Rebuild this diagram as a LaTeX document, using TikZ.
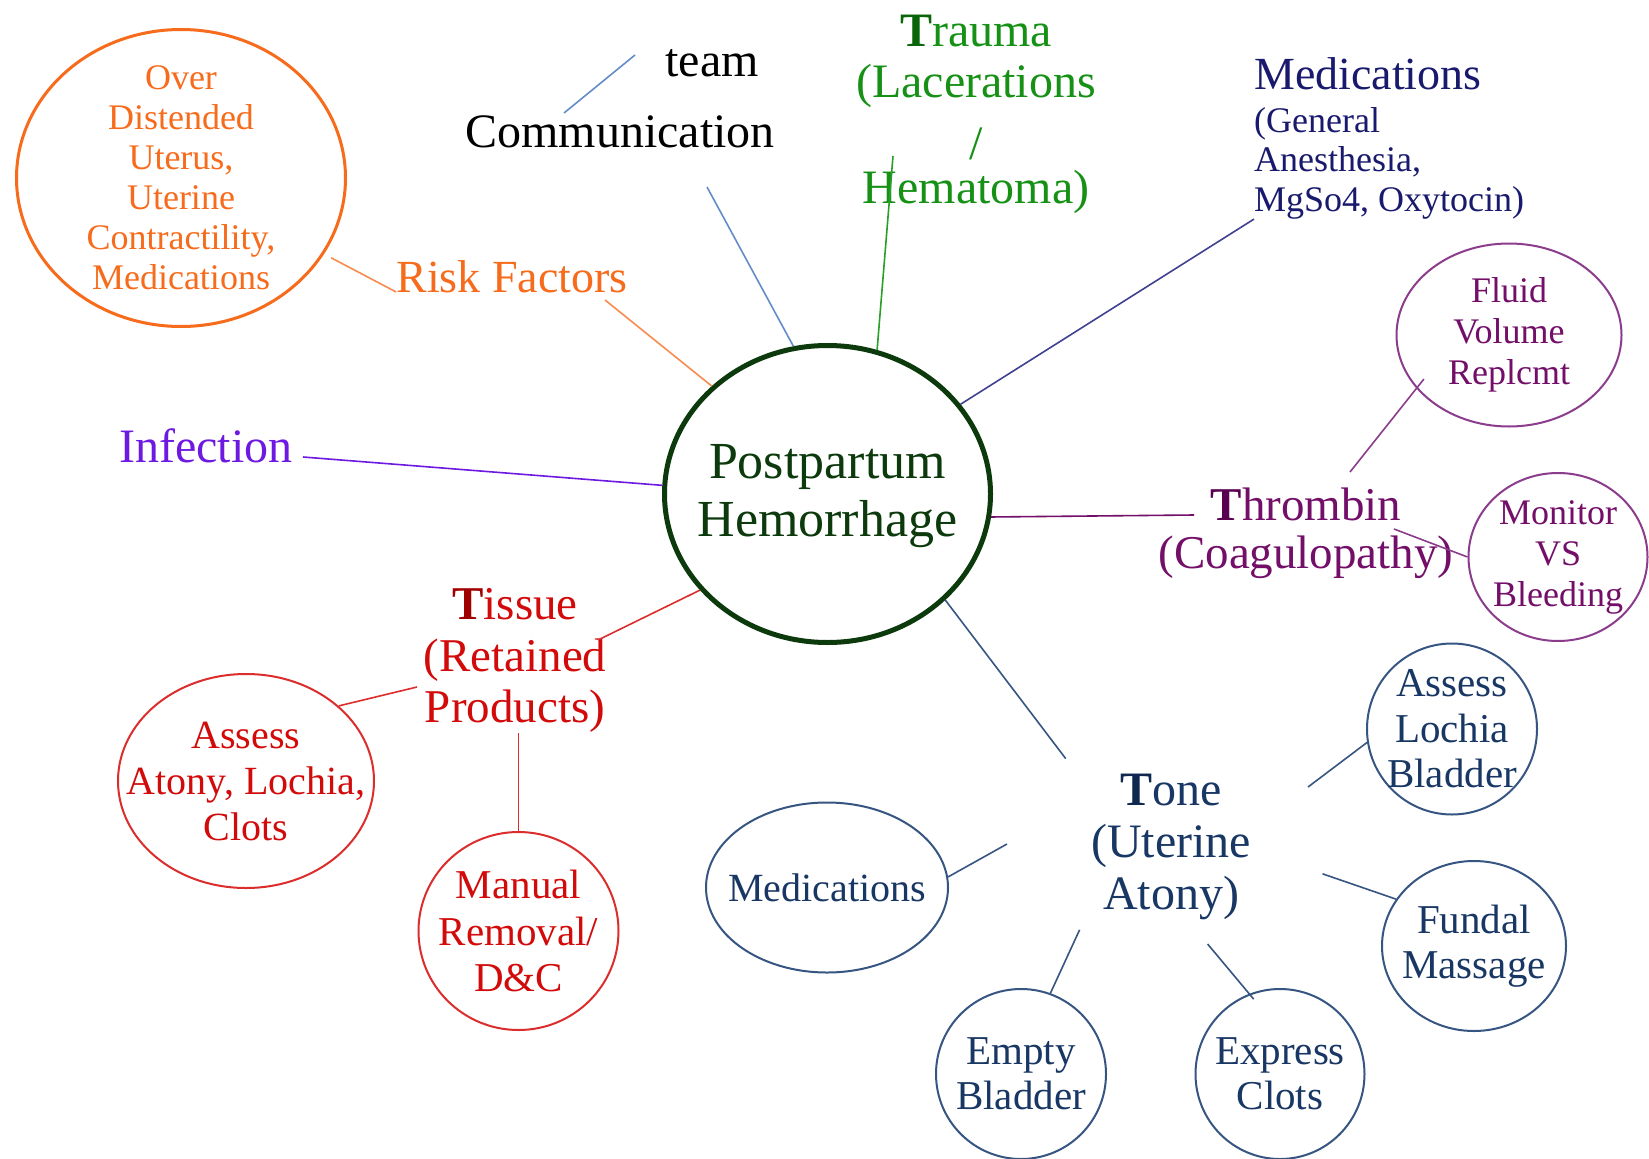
\documentclass[tikz,border=0pt]{standalone}
\usepackage{fontspec}
\setmainfont{Liberation Serif}
\usetikzlibrary{shapes.geometric}
\newcommand{\myfs}[2]{\fontsize{#1}{#2}\selectfont}
\definecolor{orng}{RGB}{247,108,28}
\definecolor{orngL}{RGB}{248,140,80}
\definecolor{commL}{RGB}{100,140,200}
\definecolor{trG}{RGB}{22,145,22}
\definecolor{trD}{RGB}{10,100,10}
\definecolor{trL}{RGB}{40,160,40}
\definecolor{navy}{RGB}{25,25,110}
\definecolor{navyL}{RGB}{65,65,145}
\definecolor{purp}{RGB}{115,15,105}
\definecolor{purpD}{RGB}{90,0,80}
\definecolor{purpL}{RGB}{140,60,140}
\definecolor{viol}{RGB}{110,25,225}
\definecolor{redT}{RGB}{210,10,10}
\definecolor{redD}{RGB}{160,0,0}
\definecolor{redL}{RGB}{220,45,45}
\definecolor{toneT}{RGB}{25,55,100}
\definecolor{toneD}{RGB}{15,40,80}
\definecolor{toneL}{RGB}{55,85,130}
\definecolor{pphg}{RGB}{12,58,12}
\begin{document}
\begin{tikzpicture}[x=1pt,y=-1pt,
  txt/.style={inner sep=0pt},
  conn/.style={line width=1.6pt},
  bub/.style={ellipse, draw, line width=2pt, inner sep=0pt},
  btxt/.style={inner sep=0pt, align=center}]
\fill[white] (0,0) rectangle (1649,1159);
\useasboundingbox (0,0) rectangle (1649,1159);

% centre
\node[ellipse, draw=pphg, line width=5pt, minimum width=326pt, minimum height=297pt,
      inner sep=0pt] (pph) at (827.5,494) {};
\node[btxt, text=pphg, font={\myfs{52}{58}}] (pphT) at (827.5,496) {Postpartum\\Hemorrhage};

% risk factors
\node[bub, draw=orng, line width=3pt, minimum width=329pt, minimum height=297pt] (riskE) at (181,178) {};
\node[btxt, text=orng, font={\myfs{36}{40}}] (riskT) at (181,178)
      {Over\\Distended\\Uterus,\\Uterine\\Contractility,\\Medications};
\node[txt, text=orng, font={\myfs{46}{52}}, anchor=base] (risk) at (512,292) {Risk Factors};
\coordinate (riskLow) at (605,300);
\draw[conn, orngL, shorten <=8pt] (riskE.332.5) -- (risk.base west);
\draw[conn, orngL] (riskLow) -- (pph.137.9);

% communication
\node[txt, font={\myfs{48}{52}}, anchor=base] (team) at (712,76) {team};
\node[txt, font={\myfs{48}{52}}, anchor=base] (comm) at (620,147) {Communication};
\coordinate (tcA) at (635,55);
\coordinate (tcB) at (564,113);
\coordinate (commEnd) at (707,187);
\draw[conn, commL] (tcA) -- (tcB);
\draw[conn, commL] (commEnd) -- (pph.103.3);

% trauma
\node[txt, text=trG, align=center, font={\myfs{48}{51}}] (trauma) at (976,114)
      {{\color{trD}\textbf{T}}rauma\\(Lacerations\\[11pt]/\\[-7pt]Hematoma)};
\coordinate (trEnd) at (893,156);
\draw[conn, trL] (trEnd) -- (pph.71.4);

% medications (top right)
\node[txt, text=navy, font={\myfs{46}{50}}, anchor=base west] (medT) at (1254,89) {Medications};
\node[txt, text=navy, align=left, font={\myfs{36}{39.5}}, anchor=west] (medSub) at (1254,163)
      {(General\\Anesthesia,\\MgSo4, Oxytocin)};
\draw[conn, navyL] (medSub.south west) -- (pph.34.9);

% thrombin
\node[txt, text=purp, align=center, font={\myfs{47}{48}}] (thromb) at (1306,533.5)
      {{\color{purpD}\textbf{T}}hrombin\\(Coagulopathy)};
\node[bub, draw=purpL, minimum width=225pt, minimum height=183pt] (fluidE) at (1509,335) {};
\node[btxt, text=purp, font={\myfs{36}{41}}] (fluidT) at (1509,335) {Fluid\\Volume\\Replcmt};
\node[bub, draw=purpL, minimum width=179pt, minimum height=168pt] (monE) at (1558,557) {};
\node[btxt, text=purp, font={\myfs{36}{41}}] (monT) at (1558,557) {Monitor\\VS\\Bleeding};
\coordinate (thrEnd) at (1194,515);
\coordinate (tfA) at (1350,472);
\coordinate (tmA) at (1394,529);
\draw[conn, purp] (pph.352.8) -- (thrEnd);
\draw[conn, purpL, shorten >=-12pt] (tfA) -- (fluidE.210.7);
\draw[conn, purpL] (tmA) -- (monE.west);

% infection
\node[txt, text=viol, font={\myfs{48}{52}}, anchor=base] (inf) at (206,462) {Infection};
\coordinate (infEnd) at (303,457);
\draw[conn, viol] (infEnd) -- (pph.177.3);

% tissue
\node[txt, text=redT, align=center, font={\myfs{47}{51.5}}] (tissue) at (515,660.5)
      {{\color{redD}\textbf{T}}issue\\(Retained\\Products)};
\node[bub, draw=redL, minimum width=256pt, minimum height=214pt] (assE) at (246,781) {};
\node[btxt, text=redT, font={\myfs{40}{46}}] (assT) at (246,781) {Assess\\Atony, Lochia,\\Clots};
\node[bub, draw=redL, minimum width=200pt, minimum height=198pt] (manE) at (518.5,931) {};
\node[btxt, text=redT, font={\myfs{41}{46.5}}] (manT) at (518.5,931) {Manual\\Removal/\\D\&C};
\coordinate (tisEnd) at (598,640);
\coordinate (tisAss) at (417,687);
\draw[conn, redL] (pph.217.2) -- (tisEnd);
\draw[conn, redL] (tisAss) -- (assE.39.4);
\draw[conn, redL] (manE.north) -- (manE.north |- tissue.south);

% tone
\node[txt, text=toneT, align=center, font={\myfs{48}{52}}] (tone) at (1171,847)
      {{\color{toneD}\textbf{T}}one\\(Uterine\\Atony)};
\tikzset{tbub/.style={bub, draw=toneL},
         tbtxt/.style={btxt, text=toneT, font={\myfs{41}{45.5}}}}
\node[tbub, minimum width=170pt, minimum height=171pt] (assL) at (1452,729) {};
\node[tbtxt] (assLT) at (1452,729) {Assess\\Lochia\\Bladder};
\node[tbub, minimum width=184pt, minimum height=170pt] (fundE) at (1474,946) {};
\node[tbtxt] (fundT) at (1474,946) {Fundal\\Massage};
\node[tbub, minimum width=169pt, minimum height=170pt] (expE) at (1280,1074) {};
\node[tbtxt] (expT) at (1280,1074) {Express\\Clots};
\node[tbub, minimum width=170pt, minimum height=170pt] (empE) at (1021,1074) {};
\node[tbtxt] (empT) at (1021,1074) {Empty\\Bladder};
\node[tbub, minimum width=242pt, minimum height=170pt] (medE) at (827,887.5) {};
\node[tbtxt, font={\myfs{40}{45}}] (medET) at (827,887.5) {Medications};
\coordinate (toneEnd) at (1065.7,758.6);
\coordinate (tAL) at (1308,787);
\coordinate (tFM) at (1322.5,873.8);
\coordinate (tEC) at (1207.6,944);
\coordinate (tEB) at (1079.6,929.8);
\coordinate (tMD) at (1007,844);
\draw[conn, toneL] (pph.318.3) -- (toneEnd);
\draw[conn, toneL] (tAL) -- (assL.189.8);
\draw[conn, toneL] (tFM) -- (fundE.149.8);
\draw[conn, toneL, shorten >=-7pt] (tEC) -- (expE.111.5);
\draw[conn, toneL] (tEB) -- (empE.70);
\draw[conn, toneL] (tMD) -- (medE.5.85);
\end{tikzpicture}
\end{document}
